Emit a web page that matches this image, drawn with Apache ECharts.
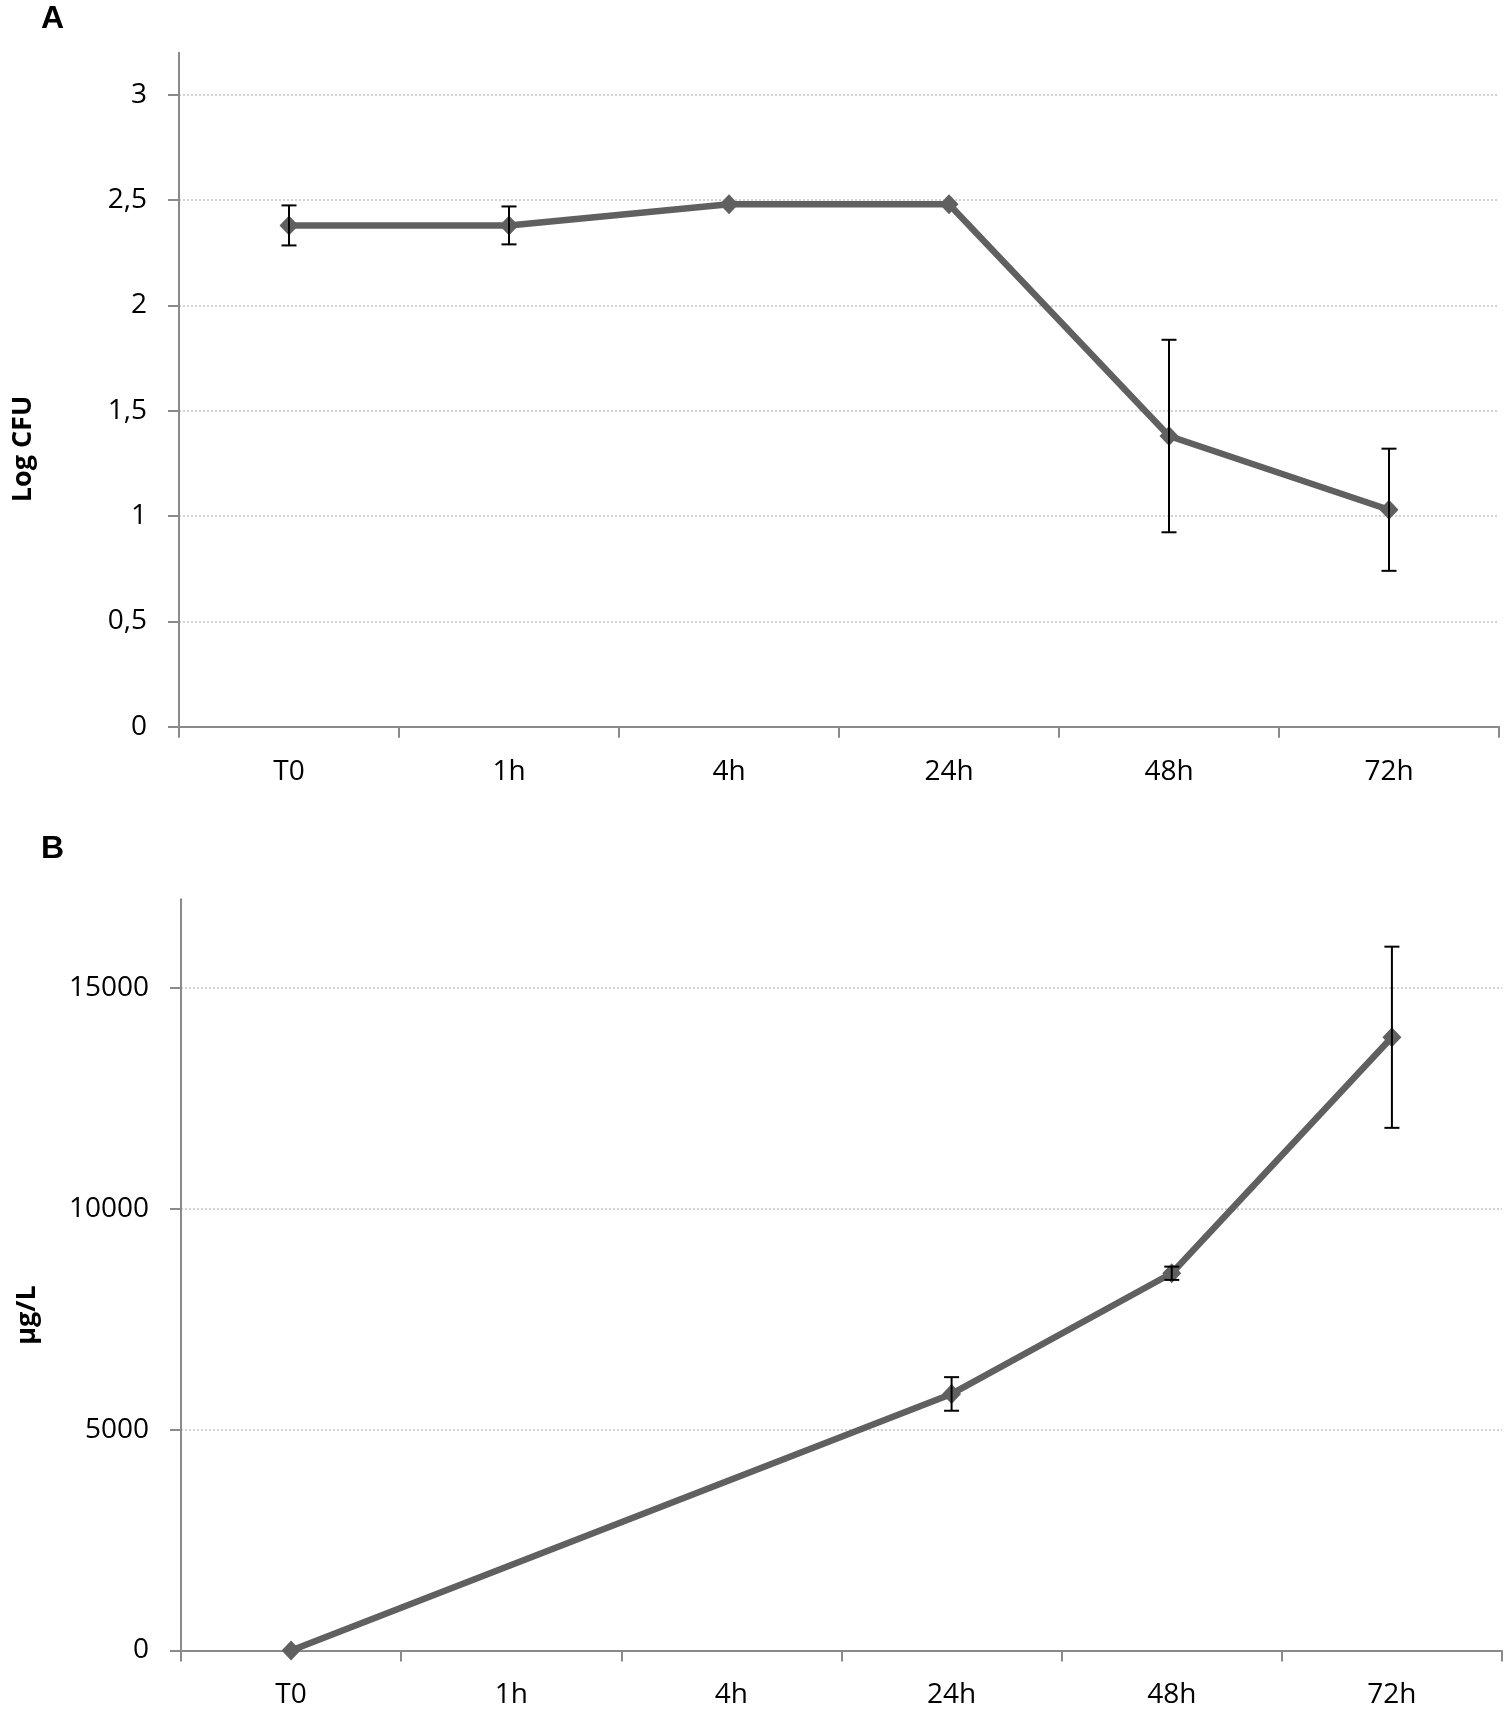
<!DOCTYPE html>
<html>
<head>
<meta charset="utf-8">
<script src="https://cdn.jsdelivr.net/npm/echarts@6/dist/echarts.min.js"></script>
<style>
html,body{margin:0;padding:0;background:#fff;}
#chart{width:1510px;height:1710px;}
</style>
</head>
<body>
<div id="chart"></div>
<script>
const categories = ['T0', '1h', '4h', '24h', '48h', '72h'];
const cfuMean = [2.38, 2.38, 2.48, 2.48, 1.38, 1.03];
const cfuErr = [0.095, 0.09, 0, 0, 0.457, 0.29];
const ugMean = [0, null, null, 5806, 8537, 13878];
const ugErr = [0, null, null, 380, 150, 2050];
const cfuTicks = [0, 0.5, 1, 1.5, 2, 2.5, 3];
const ugTicks = [0, 5000, 10000, 15000];

const LINE = '#606060';
const AXIS = '#8a8a8a';
const FONT = '"Open Sans", "DejaVu Sans", sans-serif';

function errData(mean, err) {
  const out = [];
  mean.forEach((m, i) => {
    if (m != null && err[i]) out.push([i, m, err[i]]);
  });
  return out;
}

function errRender(params, api) {
  const i = api.value(0), m = api.value(1), e = api.value(2);
  const top = api.coord([i, m + e]);
  const bot = api.coord([i, m - e]);
  const hw = 7.5;
  const style = { stroke: '#000', lineWidth: 2 };
  return {
    type: 'group',
    children: [
      { type: 'line', shape: { x1: top[0], y1: top[1], x2: bot[0], y2: bot[1] }, style },
      { type: 'line', shape: { x1: top[0] - hw, y1: top[1], x2: top[0] + hw, y2: top[1] }, style },
      { type: 'line', shape: { x1: bot[0] - hw, y1: bot[1], x2: bot[0] + hw, y2: bot[1] }, style }
    ]
  };
}

function xAxis(gridIndex) {
  return {
    type: 'category', gridIndex, data: categories, boundaryGap: true,
    axisLine: { lineStyle: { color: AXIS, width: 2 } },
    axisTick: { show: true, length: 11, lineStyle: { color: AXIS, width: 2 } },
    axisLabel: { color: '#000', fontFamily: FONT, fontSize: 28, margin: 31 },
    splitLine: { show: false }
  };
}

function yAxis(gridIndex, max, interval, ticks, fmt) {
  return {
    type: 'value', gridIndex, min: 0, max, interval,
    axisLine: { show: true, lineStyle: { color: AXIS, width: 2 } },
    axisTick: { show: true, length: 11, customValues: ticks, lineStyle: { color: AXIS, width: 2 } },
    axisLabel: { color: '#000', fontFamily: FONT, fontSize: 28, margin: 32, customValues: ticks, formatter: fmt },
    splitLine: { show: true, showMinLine: false, lineStyle: { color: '#c4c4c4', width: 1.5, type: [2, 2] } }
  };
}

const chart = echarts.init(document.getElementById('chart'), null, { renderer: 'canvas' });
chart.setOption({
  animation: false,
  backgroundColor: '#fff',
  grid: [
    { left: 179, top: 52.7, width: 1320, height: 674 },
    { left: 181, top: 899.3, width: 1321, height: 751.2 }
  ],
  xAxis: [xAxis(0), xAxis(1)],
  yAxis: [
    yAxis(0, 3.2, 0.5, cfuTicks, v => String(v).replace('.', ',')),
    yAxis(1, 17000, 5000, ugTicks, v => String(v))
  ],
  graphic: [
    { type: 'text', left: 41, top: 3, style: { text: 'A', font: 'bold 32px "Liberation Sans", Arial, sans-serif', fill: '#000' } },
    { type: 'text', left: 41, top: 833, style: { text: 'B', font: 'bold 32px "Liberation Sans", Arial, sans-serif', fill: '#000' } },
    { type: 'text', x: 23, y: 449, rotation: Math.PI / 2, style: { text: 'Log CFU', font: 'bold 27px ' + FONT, fill: '#000', align: 'center', verticalAlign: 'middle' } },
    { type: 'text', x: 27, y: 1315, rotation: Math.PI / 2, style: { text: 'µg/L', font: 'bold 27px ' + FONT, fill: '#000', align: 'center', verticalAlign: 'middle' } }
  ],
  series: [
    {
      type: 'line', xAxisIndex: 0, yAxisIndex: 0, data: cfuMean,
      symbol: 'diamond', symbolSize: [19, 20], showAllSymbol: true,
      lineStyle: { color: LINE, width: 6.5 }, itemStyle: { color: LINE }, z: 3
    },
    {
      type: 'custom', xAxisIndex: 0, yAxisIndex: 0, data: errData(cfuMean, cfuErr),
      renderItem: errRender, z: 5, encode: { x: 0, y: 1 }
    },
    {
      type: 'line', xAxisIndex: 1, yAxisIndex: 1, data: ugMean, connectNulls: true,
      symbol: 'diamond', symbolSize: [19, 20], showAllSymbol: true,
      lineStyle: { color: LINE, width: 6.5 }, itemStyle: { color: LINE }, z: 3
    },
    {
      type: 'custom', xAxisIndex: 1, yAxisIndex: 1, data: errData(ugMean, ugErr),
      renderItem: errRender, z: 5, encode: { x: 0, y: 1 }
    }
  ]
});
</script>
</body>
</html>
